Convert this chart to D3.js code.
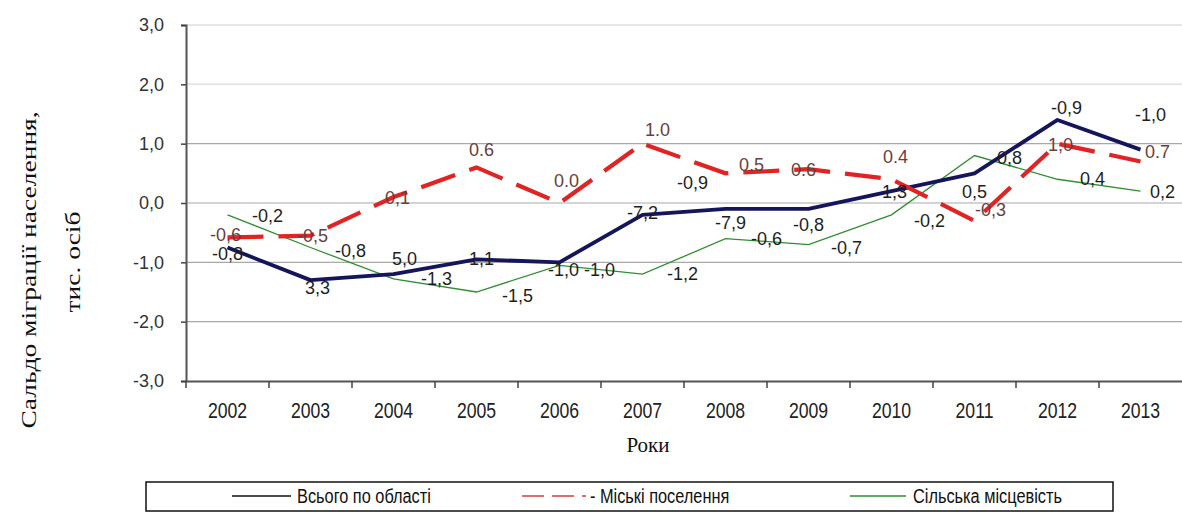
<!DOCTYPE html>
<html>
<head>
<meta charset="utf-8">
<script src="https://cdn.jsdelivr.net/npm/d3@7"></script>
<style>
  html, body { margin: 0; padding: 0; background: #fff; }
  svg { display: block; }
</style>
</head>
<body>
<svg id="chart" width="1182" height="516"></svg>
<script>
// ---------- data ----------
const years = ["2002","2003","2004","2005","2006","2007","2008","2009","2010","2011","2012","2013"];
const totalValues = [-0.75, -1.3, -1.2, -0.95, -1.0, -0.2, -0.1, -0.1, 0.2, 0.5, 1.4, 0.9];
const urbanValues = [-0.58, -0.55, 0.1, 0.6, 0.0, 1.0, 0.5, 0.57, 0.4, -0.3, 1.0, 0.7];
const ruralValues = [-0.2, -0.75, -1.28, -1.5, -1.05, -1.2, -0.6, -0.7, -0.2, 0.8, 0.4, 0.2];
const totalLabels = ["-0,8","3,3","5,0","1,1","-1,0","-7,2","-7,9","-0,8","1,3","0,5","-0,9","-1,0"];
const urbanLabels = ["-0,6","-0,5","0,1","0.6","0.0","1.0","0.5","0.6","0.4","-0,3","1,0","0.7"];
const ruralLabels = ["-0,2","-0,8","-1,3","-1,5","-1,0","-1,2","-0,6","-0,7","-0,2","0,8","0,4","0,2"];
const extraLabelText = "-0,9";
const extraLabelYear = "2008";
const yTicks = [-3, -2, -1, 0, 1, 2, 3];
const seriesNames = ["Всього по області", "- Міські поселення", "Сільська місцевість"];
const yTitleLines = ["Сальдо міграції населення,", "тис. осіб"];
const xTitle = "Роки";

// ---------- layout (label offsets relative to point, px) ----------
const totalOff = [[0,6],[7,8],[11,-15],[5,0],[4,8],[0,-2],[5,14],[0,16],[3,1],[0,19],[9,-12],[10,-35]];
const urbanOff = [[-2,-2],[2,0],[4,1],[5,-17],[7,-22],[15,-14],[26,-8],[-5,1],[4,-22],[16,-11],[3,1],[17,-9]];
const ruralOff = [[40,1],[40,3],[43,0],[41,4],[40,5],[40,0],[41,0],[38,3],[38,6],[35,2],[35,0],[22,1]];
const extraOff = [-33, 10];

const svg = d3.select("#chart");
const pLeft = 186, pRight = 1182, pTop = 25, pBottom = 381;

const x = d3.scaleBand().domain(years).range([pLeft, pRight]).padding(0);
const y = d3.scaleLinear().domain([-3, 3]).range([pBottom, pTop]);
const cx = d => x(d) + x.bandwidth() / 2;

const sansFont = "'Liberation Sans', Arial, sans-serif";
const serifFont = "'Liberation Serif', 'Times New Roman', serif";

// gridlines
svg.append("g").selectAll("line")
  .data(yTicks.filter(t => t > -3))
  .join("line")
  .attr("x1", pLeft).attr("x2", pRight)
  .attr("y1", d => y(d)).attr("y2", d => y(d))
  .attr("stroke", d => d >= 2 ? "#e6e6e6" : "#a9a9a9")
  .attr("stroke-width", d => d >= 2 ? 2 : 1.2);

// y axis
const yAxis = d3.axisLeft(y).tickValues(yTicks).tickSize(5).tickPadding(17)
  .tickFormat(d => d.toFixed(1).replace(".", ","));
const gy = svg.append("g").attr("transform", `translate(${pLeft},0)`).call(yAxis);
gy.select(".domain").attr("stroke", "#555").attr("stroke-width", 2);
gy.selectAll(".tick line").attr("stroke", "#444").attr("stroke-width", 1.5);
gy.selectAll(".tick text").attr("font-family", sansFont).attr("font-size", 18)
  .attr("fill", "#333");

// x axis
const xAxis = d3.axisBottom(x).tickSize(0).tickPadding(0);
const gx = svg.append("g").attr("transform", `translate(0,${pBottom})`).call(xAxis);
gx.select(".domain").attr("stroke", "#555").attr("stroke-width", 2);
gx.selectAll(".tick text").remove();
gx.append("g").selectAll("line")
  .data(years)
  .join("line")
  .attr("x1", d => x(d)).attr("x2", d => x(d))
  .attr("y1", 0).attr("y2", 7)
  .attr("stroke", "#444").attr("stroke-width", 1.5);
svg.append("g").selectAll("g")
  .data(years)
  .join("g")
  .attr("transform", d => `translate(${cx(d)},${pBottom + 37}) scale(0.84,1.05)`)
  .append("text")
  .attr("text-anchor", "middle")
  .attr("font-family", sansFont).attr("font-size", 21)
  .attr("fill", "#222")
  .text(d => d);

// axis titles
svg.append("text")
  .attr("transform", `translate(648,452)`)
  .attr("text-anchor", "middle")
  .attr("font-family", serifFont).attr("font-size", 21).attr("fill", "#111")
  .text(xTitle);

const yTitleX = [36, 80];
const yTitleY = [270, 262];
yTitleLines.forEach((t, i) => {
  svg.append("text")
    .attr("transform", `translate(${yTitleX[i]},${yTitleY[i]}) rotate(-90) scale(1.25,1)`)
    .attr("text-anchor", "middle")
    .attr("font-family", serifFont).attr("font-size", 22).attr("fill", "#111")
    .text(t);
});

// lines
const lineGen = d3.line().x((d, i) => cx(years[i])).y(d => y(d));

svg.append("path").datum(ruralValues)
  .attr("d", lineGen).attr("fill", "none")
  .attr("stroke", "#2f8f2f").attr("stroke-width", 1.3);

svg.append("path").datum(totalValues)
  .attr("d", lineGen).attr("fill", "none")
  .attr("stroke", "#15155c").attr("stroke-width", 3.8)
  .attr("stroke-linejoin", "round");

svg.append("path").datum(urbanValues)
  .attr("d", lineGen).attr("fill", "none")
  .attr("stroke", "#e02424").attr("stroke-width", 4.2)
  .attr("stroke-dasharray", "36,15");

// data labels
function drawLabels(values, labels, offs, color) {
  svg.append("g").selectAll("text")
    .data(values)
    .join("text")
    .attr("x", (d, i) => cx(years[i]) + offs[i][0])
    .attr("y", (d, i) => y(d) + offs[i][1])
    .attr("text-anchor", "middle")
    .attr("dominant-baseline", "central")
    .attr("font-family", sansFont).attr("font-size", 18)
    .attr("fill", color)
    .text((d, i) => labels[i]);
}
drawLabels(ruralValues, ruralLabels, ruralOff, "#1e1e1e");
drawLabels(totalValues, totalLabels, totalOff, "#1e1e1e");
drawLabels(urbanValues, urbanLabels, urbanOff, "#6a3e3e");

const ei = years.indexOf(extraLabelYear);
svg.append("text")
  .attr("x", cx(extraLabelYear) + extraOff[0])
  .attr("y", y(urbanValues[ei]) + extraOff[1])
  .attr("text-anchor", "middle").attr("dominant-baseline", "central")
  .attr("font-family", sansFont).attr("font-size", 18).attr("fill", "#1e1e1e")
  .text(extraLabelText);

// legend
const lg = svg.append("g");
lg.append("rect").attr("x", 146).attr("y", 482).attr("width", 967).attr("height", 29)
  .attr("fill", "#fff").attr("stroke", "#111").attr("stroke-width", 1.5);
const legendItems = [
  { name: seriesNames[0], x1: 232, x2: 291, tx: 297, color: "#111", w: 1.5, dash: null },
  { name: seriesNames[1], x1: 522, x2: 586, tx: 590, color: "#d04040", w: 1.5, dash: "22,8" },
  { name: seriesNames[2], x1: 850, x2: 906, tx: 913, color: "#2f8f2f", w: 1.3, dash: null }
];
legendItems.forEach(it => {
  lg.append("line").attr("x1", it.x1).attr("x2", it.x2).attr("y1", 496).attr("y2", 496)
    .attr("stroke", it.color).attr("stroke-width", it.w)
    .attr("stroke-dasharray", it.dash);
  lg.append("g").attr("transform", `translate(${it.tx},503) scale(0.86,1.05)`)
    .append("text").attr("font-family", sansFont).attr("font-size", 19).attr("fill", "#111")
    .text(it.name);
});
</script>
</body>
</html>
